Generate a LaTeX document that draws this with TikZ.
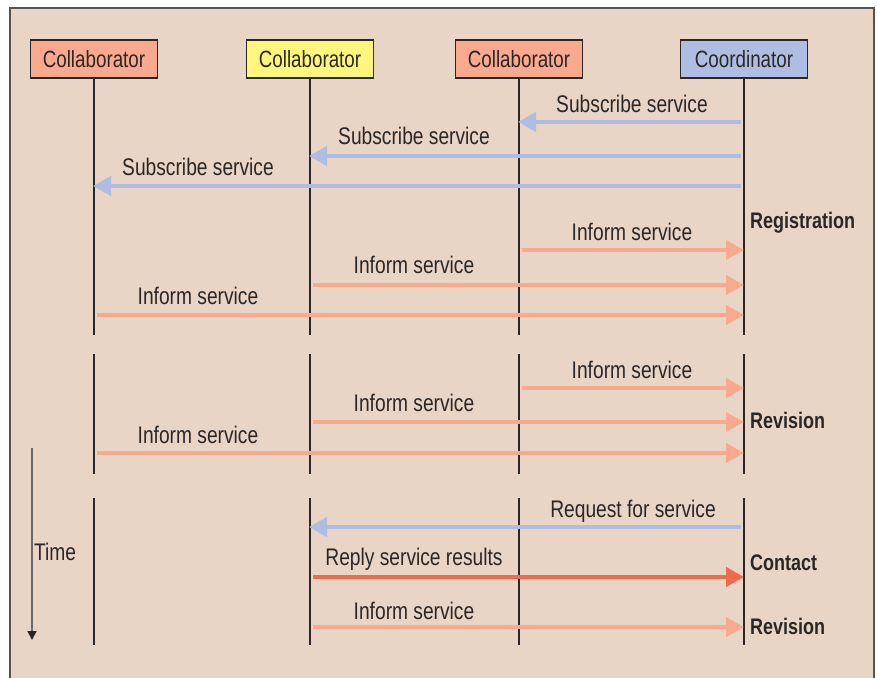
\documentclass[tikz,border=0pt]{standalone}
\usepackage{fontspec}
\setmainfont{Liberation Sans}[FakeStretch=0.8]
\usetikzlibrary{arrows.meta}
\definecolor{panel}{HTML}{E8D5C6}
\definecolor{salmon}{HTML}{F8A98E}
\definecolor{lemon}{HTML}{FFF67C}
\definecolor{lavender}{HTML}{AFBDE2}
\definecolor{informc}{HTML}{F8A98E}
\definecolor{replyc}{HTML}{EE6B4D}
\definecolor{ink}{HTML}{2B2727}
\tikzset{
  head/.style={draw=ink, line width=1.2pt, minimum width=127pt, minimum height=38pt,
    inner sep=0pt, font=\fontsize{23.5}{26}\selectfont, text=ink},
  life/.style={draw=ink, line width=1.4pt},
  msg/.style={line width=4pt, -{Triangle[length=18pt,width=19pt]}},
  subscr/.style={msg, draw=lavender, shorten >=-1pt},
  inform/.style={msg, draw=informc, shorten <=3pt},
  reply/.style={msg, draw=replyc, line width=4.6pt, shorten <=3pt},
  lbl/.style={anchor=base, font=\fontsize{24}{26}\selectfont, text=ink, inner sep=0pt},
  phase/.style={anchor=base west, font=\fontsize{22.5}{26}\selectfont\bfseries, text=ink, inner sep=0pt},
}
\begin{document}
\begin{tikzpicture}[x=1pt, y=-1pt]
\useasboundingbox (0,0) rectangle (877,677);
\fill[white] (0,0) rectangle (877,677);
% background panel
\filldraw[fill=panel, draw=ink!80, line width=1.2pt] (10,8) rectangle (874,700);

% participants
\node[head, fill=salmon] (c1) at (94,59) {Collaborator};
\node[head, fill=lemon] (c2) at (310,59) {Collaborator};
\node[head, fill=salmon] (c3) at (519,59) {Collaborator};
\node[head, fill=lavender] (co) at (744,59) {Coordinator};

% lifeline segments: three blocks
\foreach \n/\x in {c1/94, c2/310, c3/519, co/744} {
  \coordinate (\n-a0) at (\x,335);
  \coordinate (\n-b1) at (\x,354);
  \coordinate (\n-b0) at (\x,474);
  \coordinate (\n-d1) at (\x,498);
  \coordinate (\n-d0) at (\x,645);
}
\foreach \n in {c1,c2,c3,co} {
  \draw[life] (\n.south) -- (\n-a0);
  \draw[life] (\n-b1) -- (\n-b0);
  \draw[life] (\n-d1) -- (\n-d0);
}

% message anchor points on the lifelines
\foreach \n/\x in {c1/94, c2/310, c3/519, co/744} {
  \foreach \y in {122,156,186,250,285,315,388,422,453,527,577,627} {
    \coordinate (\n-\y) at (\x,\y);
  }
}

% registration
\draw[subscr, shorten <=3pt] (co-122) -- (c3-122);
\node[lbl] (l1) at (632,112) {Subscribe service};
\draw[subscr, shorten <=3pt] (co-156) -- (c2-156);
\node[lbl] (l2) at (414,144) {Subscribe service};
\draw[subscr, shorten <=3pt] (co-186) -- (c1-186);
\node[lbl] (l3) at (198,175) {Subscribe service};

\draw[inform] (c3-250) -- (co-250);
\node[lbl] (l4) at (632,240) {Inform service};
\draw[inform] (c2-285) -- (co-285);
\node[lbl] (l5) at (414,273) {Inform service};
\draw[inform] (c1-315) -- (co-315);
\node[lbl] (l6) at (198,304) {Inform service};
\node[phase] (p1) at (750,228) {Registration};

% revision
\draw[inform] (c3-388) -- (co-388);
\node[lbl] (l7) at (632,378) {Inform service};
\draw[inform] (c2-422) -- (co-422);
\node[lbl] (l8) at (414,411) {Inform service};
\draw[inform] (c1-453) -- (co-453);
\node[lbl] (l9) at (198,443) {Inform service};
\node[phase] (p2) at (750,428) {Revision};

% contact
\draw[subscr, shorten <=3pt] (co-527) -- (c2-527);
\node[lbl] (l10) at (633,517) {Request for service};
\draw[reply] (c2-577) -- (co-577);
\node[lbl] (l11) at (414,565) {Reply service results};
\node[phase] (p3) at (750,570) {Contact};
\draw[inform] (c2-627) -- (co-627);
\node[lbl] (l12) at (414,619) {Inform service};
\node[phase] (p4) at (750,634) {Revision};

% time axis
\coordinate (t0) at (32,448);
\coordinate (t1) at (32,640);
\draw[draw=ink!70, line width=1.6pt, -{Triangle[length=9pt,width=9pt,color=ink]}] (t0) -- (t1);
\node[lbl, anchor=base west] (tm) at (34,560) {Time};
\end{tikzpicture}
\end{document}
